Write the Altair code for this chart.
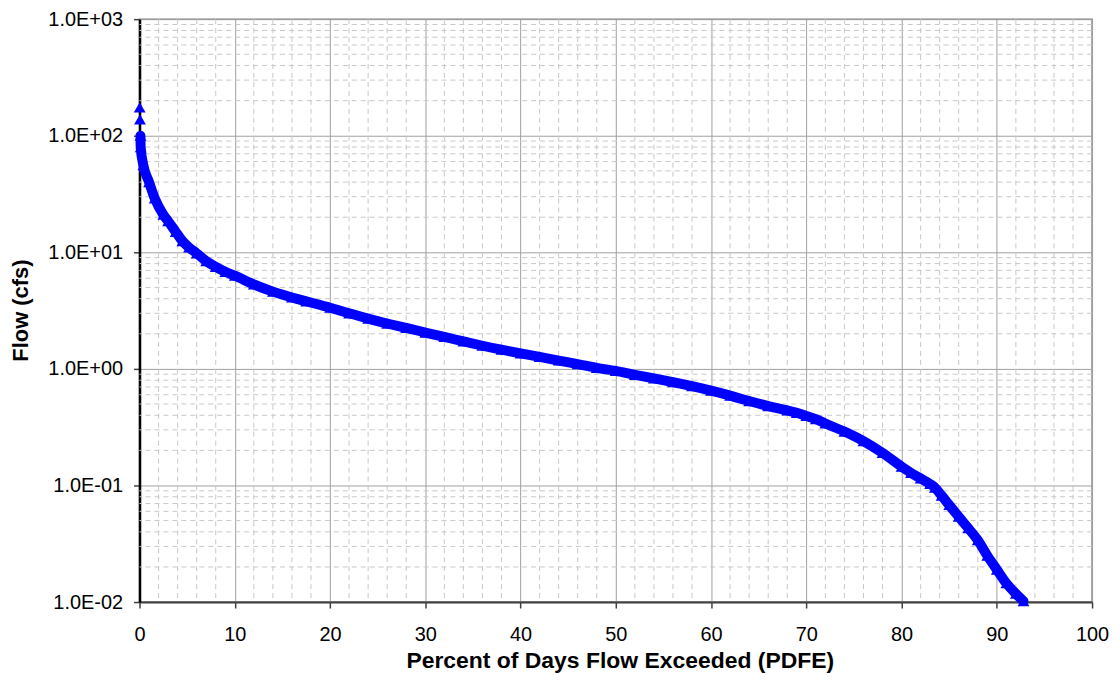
import altair as alt
import pandas as pd

# Percent of days flow exceeded (PDFE) and flow (cfs)
pdfe = [0.02, 0.05, 0.1, 0.12, 0.4, 1.0, 1.6, 2.5, 3.0, 3.8, 4.5, 5.2, 6.0, 7.0, 8.0, 9.0,
        10.0, 12.0, 14.0, 16.0, 17.5, 20.0, 22.0, 24.0, 26.0, 28.0, 30.0, 32.0, 34.0, 36.0,
        38.0, 40.0, 42.0, 44.0, 46.0, 48.0, 50.0, 52.0, 54.0, 56.0, 58.0, 60.0, 62.0, 64.0,
        66.0, 68.0, 69.0, 70.0, 71.0, 72.0, 74.0, 76.0, 78.0, 80.0, 81.0, 82.0, 83.0, 83.5,
        84.2, 85.0, 86.0, 87.0, 88.0, 89.0, 90.0, 91.0, 92.0, 92.8]
flow = [175, 138, 100, 80, 56, 40, 29, 21, 18.5, 15, 12.5, 11, 9.8, 8.4, 7.5, 6.8,
        6.3, 5.3, 4.6, 4.1, 3.8, 3.35, 3.0, 2.7, 2.45, 2.25, 2.05, 1.88, 1.72, 1.58,
        1.46, 1.36, 1.27, 1.18, 1.1, 1.02, 0.96, 0.89, 0.83, 0.77, 0.71, 0.65, 0.59, 0.53,
        0.48, 0.44, 0.42, 0.395, 0.37, 0.34, 0.29, 0.24, 0.19, 0.145, 0.128, 0.115, 0.103, 0.096,
        0.082, 0.068, 0.054, 0.043, 0.034, 0.025, 0.019, 0.0145, 0.0118, 0.0102]

x_major = [0, 10, 20, 30, 40, 50, 60, 70, 80, 90, 100]
x_minor = [v for v in range(2, 100, 2) if v % 10 != 0]
y_major = [0.01, 0.1, 1, 10, 100, 1000]
y_minor = [m * d for d in [0.01, 0.1, 1, 10, 100] for m in range(2, 10)]

df = pd.DataFrame({"pdfe": pdfe, "flow": flow})
df_xminor = pd.DataFrame({"x": x_minor})
df_yminor = pd.DataFrame({"y": y_minor})

FONT = "Liberation Sans"

xscale = alt.Scale(domain=[0, 100], nice=False)
yscale = alt.Scale(type="log", domain=[0.01, 1000], nice=False)

label_expr = ("'1.0E' + (round(log(datum.value)/LN10) >= 0 ? '+' : '-') + "
              "'0' + abs(round(log(datum.value)/LN10))")

minor_v = alt.Chart(df_xminor).mark_rule(color="#c8c8c8", strokeDash=[5, 4], strokeWidth=1).encode(
    x=alt.X("x:Q", scale=xscale)
)
minor_h = alt.Chart(df_yminor).mark_rule(color="#c8c8c8", strokeDash=[5, 4], strokeWidth=1).encode(
    y=alt.Y("y:Q", scale=yscale)
)

line = alt.Chart(df).transform_filter("datum.flow <= 100").mark_line(
    color="#0000ff", strokeWidth=10, strokeCap="round", strokeJoin="round", interpolate="monotone"
).encode(
    x=alt.X("pdfe:Q", scale=xscale,
            axis=alt.Axis(values=x_major, title="Percent of Days Flow Exceeded (PDFE)",
                          grid=True, gridColor="#a0a0a0", gridWidth=1,
                          domainColor="#404040", domainWidth=2,
                          tickColor="#404040", tickSize=6, tickWidth=1.5,
                          labelFont=FONT, labelFontSize=20, labelColor="#000000", labelPadding=17,
                          labelFlush=False,
                          titleFont=FONT, titleFontSize=23, titleFontWeight="bold", titleColor="#000000",
                          titleX=482, titleY=59, titleBaseline="middle")),
    y=alt.Y("flow:Q", scale=yscale,
            axis=alt.Axis(values=y_major, title="Flow (cfs)", labelExpr=label_expr,
                          grid=True, gridColor="#a0a0a0", gridWidth=1,
                          domainColor="#000000", domainWidth=2.5,
                          tickColor="#404040", tickSize=6, tickWidth=1.5,
                          labelFont=FONT, labelFontSize=20, labelColor="#000000", labelPadding=11,
                          labelFlush=False,
                          titleFont=FONT, titleFontSize=22, titleFontWeight="bold", titleColor="#000000",
                          titleX=-119, titleY=292, titleAngle=-90, titleBaseline="middle")),
    order="pdfe:Q",
)

pts = alt.Chart(df).mark_point(shape="triangle-up", filled=True, color="#0000ff", size=140, opacity=1).encode(
    x=alt.X("pdfe:Q", scale=xscale),
    y=alt.Y("flow:Q", scale=yscale),
)

chart = alt.layer(minor_v, minor_h, line, pts).properties(
    width=956, height=585,
    autosize=alt.AutoSizeParams(type="none"),
    padding={"left": 132, "top": 10, "right": 20, "bottom": 70},
    background="white",
).configure_view(stroke="#808080", strokeWidth=1.5)

chart.save("out.html", embed_options={"renderer": "svg", "actions": False})
